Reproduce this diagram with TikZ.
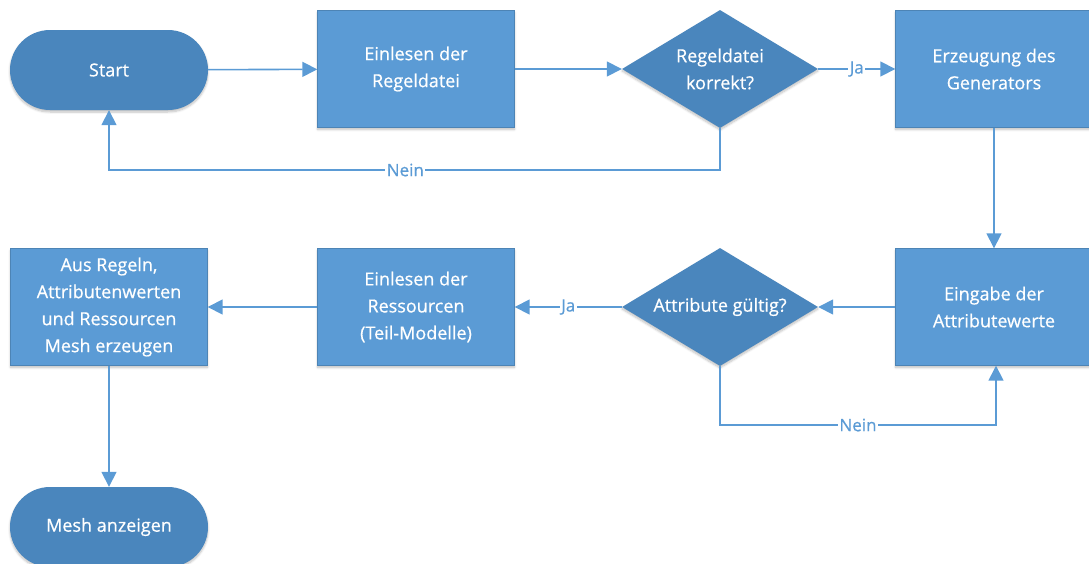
\documentclass[tikz,border=0pt]{standalone}
\usepackage{fontspec}
\setmainfont{Open Sans}
\newfontfamily\boxfont[FakeBold=0.6]{Open Sans}
\usetikzlibrary{shapes.geometric,arrows.meta,shadows.blur}
\definecolor{boxblue}{HTML}{5B9BD5}
\definecolor{darkblue}{HTML}{4A86BD}
\definecolor{lineblue}{HTML}{5B9BD5}
\tikzset{
  base/.style={text=white, align=center, font=\boxfont\fontsize{18}{27}\selectfont,
    blur shadow={shadow xshift=0pt, shadow yshift=-2pt, shadow blur steps=6, shadow opacity=25}},
  procbox/.style={base, rectangle, fill=boxblue, draw=boxblue!85!black, line width=0.4pt,
    minimum width=197pt, minimum height=117pt, inner sep=0pt},
  termbox/.style={base, rectangle, rounded corners=40pt, fill=darkblue,
    minimum width=198pt, minimum height=80pt, inner sep=0pt},
  decbox/.style={base, diamond, fill=darkblue, minimum width=196pt, minimum height=118pt,
    inner sep=0pt, aspect=1.66},
  flow/.style={draw=lineblue, line width=1.6pt, -{Triangle[length=15pt,width=15pt]}},
  lbl/.style={fill=white, text=lineblue, font=\boxfont\fontsize{17}{20}\selectfont, inner sep=1.5pt}
}
\begin{document}
\begin{tikzpicture}[x=1pt,y=-1pt]
\useasboundingbox (0,0) rectangle (1089,563);
% top row
\node[termbox] (start) at (109,70) {Start};
\node[procbox] (read) at (416,69) {Einlesen der\\Regeldatei};
\node[decbox] (chk) at (720,69) {Regeldatei\\korrekt?};
\node[procbox] (gen) at (994,69) {Erzeugung des\\Generators};
% middle row
\node[procbox] (input) at (994,307) {Eingabe der\\Attributewerte};
\node[decbox] (valid) at (720,307) {Attribute gültig?};
\node[procbox] (res) at (416,307) {Einlesen der\\Ressourcen\\(Teil-Modelle)};
\node[procbox] (mesh) at (109,307) {Aus Regeln,\\Attributenwerten\\und Ressourcen\\Mesh erzeugen};
% bottom
\node[termbox] (show) at (109,527) {Mesh anzeigen};
% connectors
\draw[flow] (start) -- (read);
\draw[flow] (read) -- (chk);
\draw[flow] (chk) -- node[lbl] {Ja} (gen);
\draw[flow] (chk.south) -- (720,170) -- node[lbl, pos=0.515] {Nein} (109,170) -- (start.south);
\draw[flow] (gen) -- (input);
\draw[flow] (input) -- (valid);
\draw[flow] (valid) -- node[lbl, pos=0.5] {Ja} (res);
\draw[flow] (valid.south) -- (720,425) -- node[lbl, pos=0.5] {Nein} (996,425) -- (input.south -| 996,0);
\draw[flow] (res) -- (mesh);
\draw[flow] (mesh) -- (show);
\end{tikzpicture}
\end{document}
